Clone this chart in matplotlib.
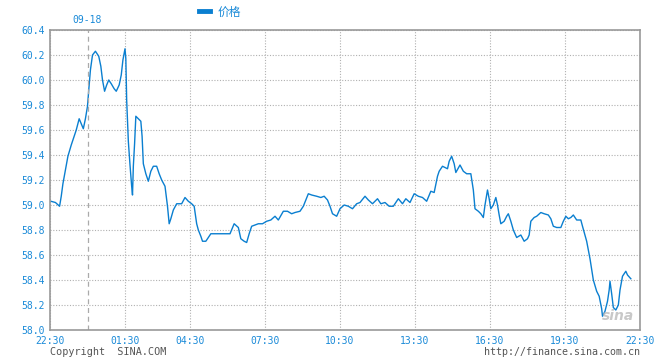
import matplotlib
matplotlib.use("Agg")
import matplotlib.pyplot as plt
from matplotlib.lines import Line2D

# minutes on the display axis, counted from 22:30 (the axis skips trading gaps)
minutes = [2, 13, 23, 27, 31, 37, 43, 51, 59, 63,
           70, 75, 80, 85, 90, 93, 97, 102, 109, 117,
           122, 126, 131, 136, 141, 147, 154, 159, 166, 171,
           175, 180, 182, 184, 188, 192, 196, 198, 200, 203,
           206, 212, 218, 221, 224, 230, 236, 242, 248, 256,
           262, 268, 276, 282, 285, 286, 290, 296, 304, 316,
           324, 332, 340, 346, 352, 356, 362, 366, 374, 380,
           386, 432, 442, 452, 458, 466, 472, 478, 484, 492,
           500, 510, 520, 530, 540, 548, 560, 570, 580, 588,
           600, 608, 614, 620, 628, 640, 650, 658, 666, 672,
           678, 688, 696, 706, 716, 726, 736, 744, 756, 764,
           774, 786, 794, 804, 814, 824, 836, 846, 854, 864,
           874, 884, 894, 904, 914, 922, 930, 934, 942, 954,
           958, 964, 970, 974, 984, 992, 1000, 1010, 1016, 1020,
           1028, 1034, 1040, 1044, 1050, 1054, 1058, 1064, 1070, 1074,
           1078, 1082, 1090, 1096, 1100, 1106, 1112, 1120, 1130, 1138,
           1146, 1150, 1154, 1162, 1168, 1178, 1186, 1196, 1202, 1208,
           1216, 1226, 1232, 1238, 1244, 1250, 1256, 1264, 1274, 1278,
           1288, 1296, 1304, 1312, 1318, 1324, 1326, 1332, 1338, 1342,
           1344, 1348, 1352, 1358, 1364, 1368, 1374, 1382, 1386, 1394]
prices = [59.03, 59.02, 58.99, 59.07, 59.17, 59.28, 59.39, 59.48, 59.56, 59.60,
          59.69, 59.65, 59.61, 59.69, 59.79, 59.92, 60.08, 60.20, 60.23, 60.19,
          60.11, 60.00, 59.91, 59.96, 60.00, 59.97, 59.93, 59.91, 59.96, 60.04,
          60.16, 60.25, 60.17, 59.84, 59.51, 59.32, 59.15, 59.08, 59.31, 59.49,
          59.71, 59.69, 59.67, 59.55, 59.33, 59.25, 59.19, 59.27, 59.31, 59.31,
          59.25, 59.20, 59.15, 58.99, 58.88, 58.85, 58.89, 58.96, 59.01, 59.01,
          59.06, 59.03, 59.01, 58.99, 58.85, 58.80, 58.75, 58.71, 58.71, 58.74,
          58.77, 58.77, 58.85, 58.82, 58.73, 58.71, 58.70, 58.77, 58.83, 58.84,
          58.85, 58.85, 58.87, 58.88, 58.91, 58.88, 58.95, 58.95, 58.93, 58.94,
          58.95, 58.99, 59.04, 59.09, 59.08, 59.07, 59.06, 59.07, 59.04, 58.99,
          58.93, 58.91, 58.97, 59.00, 58.99, 58.97, 59.01, 59.02, 59.07, 59.04,
          59.01, 59.05, 59.01, 59.02, 58.99, 58.99, 59.05, 59.01, 59.05, 59.02,
          59.09, 59.07, 59.06, 59.03, 59.11, 59.10, 59.23, 59.27, 59.31, 59.29,
          59.35, 59.39, 59.33, 59.26, 59.32, 59.27, 59.25, 59.25, 59.12, 58.97,
          58.95, 58.93, 58.90, 59.00, 59.12, 59.05, 58.97, 59.00, 59.06, 59.00,
          58.92, 58.85, 58.87, 58.91, 58.93, 58.87, 58.80, 58.74, 58.76, 58.71,
          58.73, 58.76, 58.87, 58.90, 58.91, 58.94, 58.93, 58.92, 58.89, 58.83,
          58.82, 58.82, 58.87, 58.91, 58.89, 58.90, 58.92, 58.88, 58.88, 58.83,
          58.71, 58.57, 58.40, 58.31, 58.27, 58.17, 58.11, 58.15, 58.23, 58.32,
          58.39, 58.29, 58.18, 58.16, 58.20, 58.32, 58.43, 58.47, 58.44, 58.41]

tick_pos = [0, 180, 336, 516, 696, 876, 1056, 1236, 1416]
tick_labels = ["22:30", "01:30", "04:30", "07:30", "10:30",
               "13:30", "16:30", "19:30", "22:30"]
y_ticks = [58.0, 58.2, 58.4, 58.6, 58.8, 59.0, 59.2, 59.4, 59.6, 59.8,
           60.0, 60.2, 60.4]
day_break = 90

blue = "#0a7fd0"
label_blue = "#1a8ad8"
mono = "DejaVu Sans Mono"

fig = plt.figure(figsize=(6.6, 3.6), dpi=100)
ax = fig.add_axes([50 / 660, 30 / 360, 590 / 660, 300 / 360])

ax.plot(minutes, prices, color=blue, lw=1.0)

ax.set_xlim(0, 1416)
ax.set_ylim(58.0, 60.4)
ax.set_xticks(tick_pos)
ax.set_xticklabels(tick_labels)
ax.set_yticks(y_ticks)
ax.set_yticklabels([f"{v:.1f}" for v in y_ticks])
ax.tick_params(length=0, labelsize=7, labelcolor=label_blue, pad=4)
for lbl in ax.get_xticklabels() + ax.get_yticklabels():
    lbl.set_family(mono)

ax.grid(True, color="#b0b0b0", lw=0.8, ls=(0, (1, 1.5)))
ax.axvline(day_break, color="#aaaaaa", lw=0.9, ls=(0, (4, 3)))
for s in ax.spines.values():
    s.set_color("#999999")
    s.set_linewidth(1.2)

fig.text(87 / 660, 1 - 20 / 360, "09-18", color=label_blue, family=mono,
         fontsize=7, ha="center", va="center")

handle = Line2D([], [], color=blue, lw=3.5)
fig.legend([handle], ["价格"], loc="center",
           bbox_to_anchor=(220 / 660, 1 - 12 / 360), frameon=False,
           handlelength=0.9, handletextpad=0.6,
           prop={"family": ["Noto Sans CJK SC", "DejaVu Sans"], "size": 8.5},
           labelcolor=label_blue)

fig.text(50 / 660, 1 - 352 / 360, "Copyright  SINA.COM", color="#555555",
         family=mono, fontsize=7.3, ha="left", va="center")
fig.text(640 / 660, 1 - 352 / 360, "http://finance.sina.com.cn",
         color="#555555", family=mono, fontsize=7.2, ha="right", va="center")
fig.text(618 / 660, 1 - 316 / 360, "sina", color="#bbbbbb", alpha=0.8,
         fontsize=10, fontweight="bold", style="italic", ha="center",
         va="center")

fig.savefig("out.png", dpi=100)
